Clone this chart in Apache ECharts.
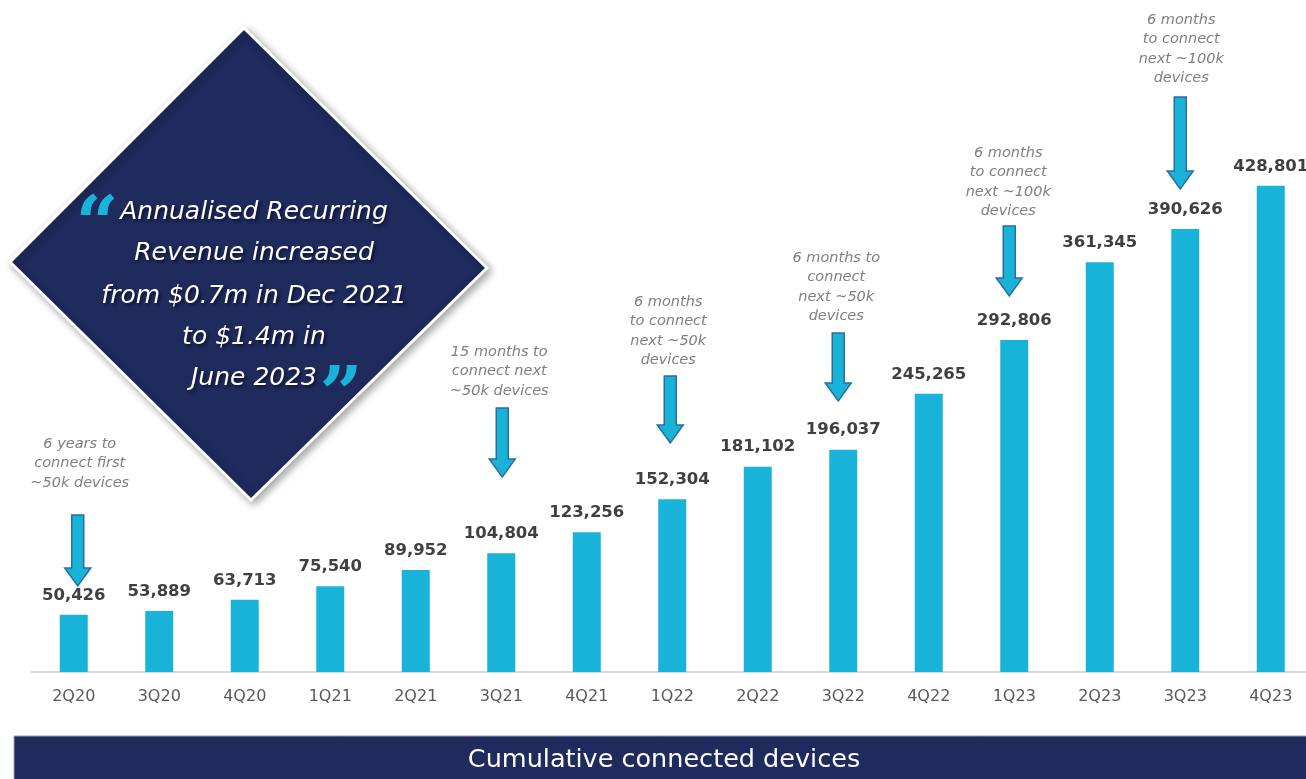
<!DOCTYPE html>
<html><head><meta charset="utf-8">
<script src="https://cdn.jsdelivr.net/npm/echarts@6/dist/echarts.min.js"></script>
<style>html,body{margin:0;padding:0;background:#fff;overflow:hidden}#c{width:1306px;height:779px}</style>
</head><body><div id="c"></div>
<script>
const categories = ['2Q20','3Q20','4Q20','1Q21','2Q21','3Q21','4Q21','1Q22','2Q22','3Q22','4Q22','1Q23','2Q23','3Q23','4Q23'];
const devices = [50426, 53889, 63713, 75540, 89952, 104804, 123256, 152304, 181102, 196037, 245265, 292806, 361345, 390626, 428801];
const noteCategories = ['2Q20','3Q21','1Q22','3Q22','1Q23','3Q23'];
const noteTexts = [
  '6 years to\nconnect first\n~50k devices',
  '15 months to\nconnect next\n~50k devices',
  '6 months\nto connect\nnext ~50k\ndevices',
  '6 months to\nconnect\nnext ~50k\ndevices',
  '6 months\nto connect\nnext ~100k\ndevices',
  '6 months\nto connect\nnext ~100k\ndevices'
];
const quoteLines = ['Annualised Recurring','Revenue increased','from $0.7m in Dec 2021','to $1.4m in','June 2023'];
const footerTitle = 'Cumulative connected devices';

// layout for annotations (pixel offsets / heights only)
const noteLayout = [
  {dx: 4,  textDx: 6,  arrowTop: 515, arrowTip: 586, textY: 434},
  {dx: 1,  textDx: -2, arrowTop: 408, arrowTip: 477, textY: 342},
  {dx: -2, textDx: -4, arrowTop: 376, arrowTip: 443, textY: 292},
  {dx: -5, textDx: -7, arrowTop: 333, arrowTip: 401, textY: 248},
  {dx: -5, textDx: -6, arrowTop: 226, arrowTip: 296, textY: 143},
  {dx: -5, textDx: -4, arrowTop: 97,  arrowTip: 189, textY: 10}
];

const chart = echarts.init(document.getElementById('c'), null, {renderer: 'canvas'});
const NAVY = '#1f2a5d';
const CYAN = '#19b3d9';

chart.setOption({
  animation: false,
  grid: {left: 31, width: 1282.5, top: 105, bottom: 107, outerBoundsMode: 'none', containLabel: false},
  xAxis: {
    type: 'category', data: categories,
    axisLine: {lineStyle: {color: '#d9d9d9', width: 2}},
    axisTick: {show: false},
    axisLabel: {color: '#595959', fontFamily: 'DejaVu Sans', fontSize: 16, margin: 17, interval: 0}
  },
  yAxis: {type: 'value', min: 0, max: 500000, show: false, splitLine: {show: false}},
  series: [{
    type: 'bar', data: devices, barWidth: 28,
    itemStyle: {color: CYAN},
    label: {
      show: true, position: 'top', distance: 11,
      fontFamily: 'DejaVu Sans', fontWeight: 'bold', fontSize: 16.5, color: '#404040',
      formatter: p => p.value.toLocaleString('en-US')
    }
  }]
});

const graphics = [];
// diamond quote box
graphics.push({
  type: 'polygon', z: 10,
  shape: {points: [[244, 28], [487, 268], [251, 500], [10, 262]]},
  style: {fill: NAVY, stroke: '#ffffff', lineWidth: 3, shadowBlur: 8, shadowColor: 'rgba(0,0,0,0.35)', shadowOffsetX: 3, shadowOffsetY: 3}
});
const lineY = [212, 253, 296, 337, 378];
quoteLines.forEach((t, i) => {
  graphics.push({
    type: 'text', z: 11, x: 254, y: lineY[i],
    style: {text: t, fill: '#ffffff', font: 'italic 25px "DejaVu Sans"', align: 'center', verticalAlign: 'middle',
      textShadowColor: 'rgba(0,0,0,0.55)', textShadowBlur: 3, textShadowOffsetX: 2, textShadowOffsetY: 2}
  });
});
graphics.push({type: 'text', z: 11, x: 97, y: 230, style: {text: '\u201C', fill: CYAN, font: 'bold 75px "DejaVu Serif"', align: 'center', verticalAlign: 'middle'}});
graphics.push({type: 'text', z: 11, x: 341, y: 401, style: {text: '\u201D', fill: CYAN, font: 'bold 75px "DejaVu Serif"', align: 'center', verticalAlign: 'middle'}});

// annotations with arrows
noteCategories.forEach((cat, i) => {
  const px = chart.convertToPixel({xAxisIndex: 0}, cat);
  const L = noteLayout[i];
  const cx = px + L.dx;
  const sw = 6, hw = 13, hh = 18;
  const top = L.arrowTop, tip = L.arrowTip, hs = tip - hh;
  graphics.push({
    type: 'polygon', z: 5,
    shape: {points: [[cx - sw, top], [cx + sw, top], [cx + sw, hs], [cx + hw, hs], [cx, tip], [cx - hw, hs], [cx - sw, hs]]},
    style: {fill: CYAN, stroke: '#2b6e9e', lineWidth: 1.5}
  });
  graphics.push({
    type: 'text', z: 5, x: px + L.textDx, y: L.textY,
    style: {text: noteTexts[i], fill: '#7f7f7f', font: 'italic 14.5px "DejaVu Sans"', align: 'center', verticalAlign: 'top', lineHeight: 19.5}
  });
});

// footer banner
graphics.push({type: 'rect', z: 5, shape: {x: 14, y: 736, width: 1300, height: 50}, style: {fill: NAVY, stroke: '#9aa0b8', lineWidth: 1}});
graphics.push({type: 'text', z: 6, x: 664, y: 760, style: {text: footerTitle, fill: '#ffffff', font: '25.5px "DejaVu Sans"', align: 'center', verticalAlign: 'middle'}});

chart.setOption({graphic: graphics});
</script></body></html>
